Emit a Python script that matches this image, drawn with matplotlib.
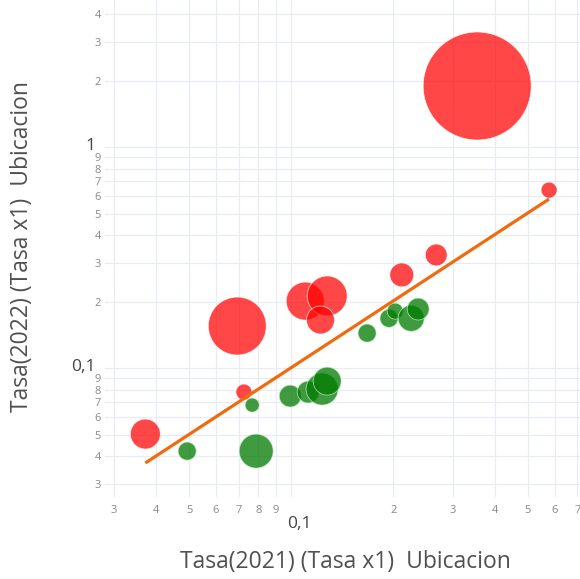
import numpy as np
import matplotlib
matplotlib.use("Agg")
import matplotlib.pyplot as plt
import matplotlib.transforms as mtrans
from matplotlib.ticker import FixedLocator, FixedFormatter

plt.rcParams['font.family'] = ['Open Sans', 'DejaVu Sans']

# tasas por ubicacion (2021 vs 2022) y peso de la burbuja
tasa_2021 = [0.354, 0.577, 0.268, 0.212, 0.0693, 0.110, 0.1277, 0.122, 0.0725, 0.0371,
             0.0493, 0.0788, 0.0767, 0.0993, 0.1122, 0.1234, 0.1277, 0.1675, 0.1944, 0.2027, 0.226, 0.237]
tasa_2022 = [1.89, 0.639, 0.325, 0.264, 0.155, 0.201, 0.212, 0.165, 0.0779, 0.0503,
             0.0421, 0.0421, 0.068, 0.0747, 0.0779, 0.0804, 0.0873, 0.144, 0.168, 0.181, 0.168, 0.185]
peso = [100, 2.2, 4.1, 4.9, 28.8, 12.4, 13.7, 6.7, 2.2, 7.7,
        2.8, 9.9, 1.7, 4.1, 4.1, 8.8, 6.7, 2.8, 2.8, 2.2, 5.8, 4.1]

# linea de tendencia
tend_x = [0.0371, 0.577]
tend_y = [0.0372, 0.582]

x_minor = [0.03, 0.04, 0.05, 0.06, 0.07, 0.08, 0.09, 0.2, 0.3, 0.4, 0.5, 0.6, 0.7]
x_minor_lab = ['3', '4', '5', '6', '7', '8', '9', '2', '3', '4', '5', '6', '7']
x_major = [0.1]
x_major_lab = ['0,1']
y_minor = [0.03, 0.04, 0.05, 0.06, 0.07, 0.08, 0.09, 0.2, 0.3, 0.4, 0.5, 0.6, 0.7, 0.8, 0.9, 2, 3, 4]
y_minor_lab = ['3', '4', '5', '6', '7', '8', '9', '2', '3', '4', '5', '6', '7', '8', '9', '2', '3', '4']
y_major = [0.1, 1]
y_major_lab = ['0,1', '1']

x = np.array(tasa_2021)
y = np.array(tasa_2022)
p = np.array(peso)
sube = y > x

fig = plt.figure(figsize=(5.8, 5.79), dpi=100)
ax = fig.add_axes([0.181, 0.1416, 0.819, 0.8584])
ax.set_xscale('log')
ax.set_yscale('log')
ax.set_xlim(0.0282, 0.712)
ax.set_ylim(0.0261, 4.63)

# area proporcional al peso: peso 100 -> radio 54 px
s = (1.44 * 54) ** 2 * p / 100
ax.scatter(x[sube], y[sube], s=s[sube], color='#ff0000', alpha=0.72,
           edgecolors='white', linewidths=0.6, zorder=3)
ax.scatter(x[~sube], y[~sube], s=s[~sube], color='#007a00', alpha=0.75,
           edgecolors='#c8f0c8', linewidths=0.6, zorder=3)
ax.plot(tend_x, tend_y, color='#f06a0e', lw=2.3, zorder=4, solid_capstyle='butt')

ax.xaxis.set_major_locator(FixedLocator(x_major))
ax.xaxis.set_major_formatter(FixedFormatter(x_major_lab))
ax.xaxis.set_minor_locator(FixedLocator(x_minor))
ax.xaxis.set_minor_formatter(FixedFormatter(x_minor_lab))
ax.yaxis.set_major_locator(FixedLocator(y_major))
ax.yaxis.set_major_formatter(FixedFormatter(y_major_lab))
ax.yaxis.set_minor_locator(FixedLocator(y_minor))
ax.yaxis.set_minor_formatter(FixedFormatter(y_minor_lab))

ax.tick_params(axis='x', which='minor', length=0, pad=6, labelsize=8, labelcolor='#888888')
ax.tick_params(axis='x', which='major', length=0, pad=14, labelsize=12.5, labelcolor='#444444')
ax.tick_params(axis='y', which='minor', length=0, pad=3, labelsize=8, labelcolor='#888888')
ax.tick_params(axis='y', which='major', length=0, pad=7, labelsize=12.5, labelcolor='#444444')

# desplazar un poco la etiqueta mayor del eje x
off = mtrans.ScaledTranslation(8 / 100, 0, fig.dpi_scale_trans)
for lab in ax.xaxis.get_majorticklabels():
    lab.set_transform(lab.get_transform() + off)
off_y = mtrans.ScaledTranslation(0, 3 / 100, fig.dpi_scale_trans)
for lab in ax.yaxis.get_majorticklabels():
    lab.set_transform(lab.get_transform() + off_y)

ax.grid(True, which='both', color='#e6ebf5', lw=0.8)
ax.set_axisbelow(True)
for sp in ax.spines.values():
    sp.set_visible(False)

fig.text(0.595, 0.029, 'Tasa(2021) (Tasa x1)  Ubicacion', ha='center', va='center',
         fontsize=16.5, color='#505050')
fig.text(0.038, 0.575, 'Tasa(2022) (Tasa x1)  Ubicacion', ha='center', va='center',
         rotation=90, fontsize=16.5, color='#505050')

fig.savefig('out.png', dpi=100)
